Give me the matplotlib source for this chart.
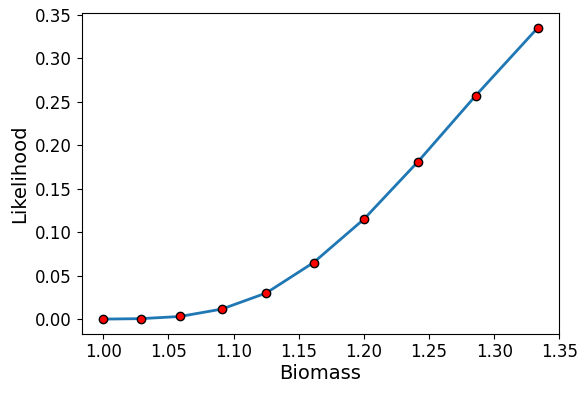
import numpy as np
import matplotlib
matplotlib.use("Agg")
import matplotlib.pyplot as plt

# Data
biomass = [1.0, 1.0286, 1.0588, 1.0909, 1.125, 1.1613, 1.2, 1.2414, 1.2857, 1.3333]
likelihood = [0.0, 0.0005, 0.003, 0.0115, 0.030, 0.065, 0.115, 0.181, 0.257, 0.335]

fig, ax = plt.subplots(figsize=(5.87, 3.93), dpi=100)
ax.plot(biomass, likelihood, color="#1f77b4", linewidth=2)
ax.plot(biomass, likelihood, "o", color="red", markeredgecolor="black", markersize=6)

ax.set_xlabel("Biomass", fontsize=14, labelpad=2)
ax.set_ylabel("Likelihood", fontsize=14)
ax.set_xticks(np.arange(1.0, 1.36, 0.05))
ax.set_yticks(np.arange(0.0, 0.36, 0.05))
ax.tick_params(labelsize=12)

fig.subplots_adjust(left=0.139, right=0.953, top=0.966, bottom=0.151)
fig.savefig("out.png")
